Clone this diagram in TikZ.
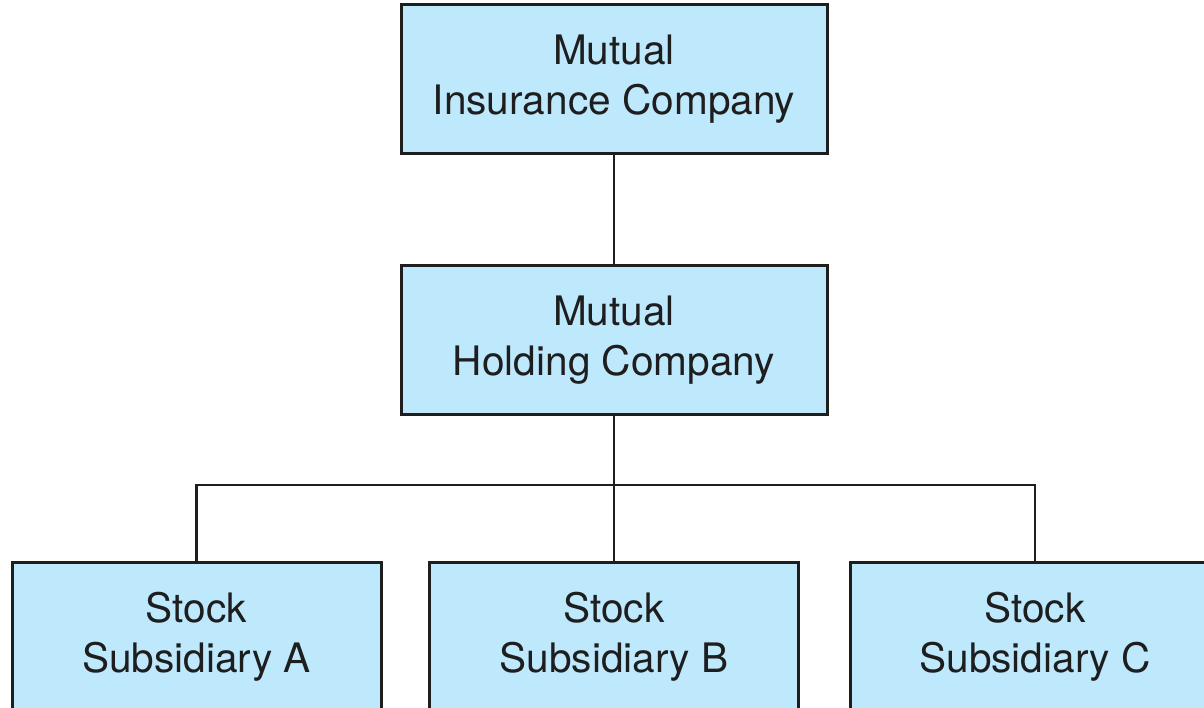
\documentclass[tikz,border=0pt]{standalone}
\usepackage{fontspec}
\setmainfont{TeX Gyre Heros}
\definecolor{boxblue}{RGB}{190,233,253}
\definecolor{inkgray}{RGB}{30,30,30}
\begin{document}
\begin{tikzpicture}[x=1pt,y=-1pt,
  entity/.style={draw=inkgray, line width=3pt, fill=boxblue, text=inkgray,
    align=center, font=\fontsize{40.6}{50}\selectfont, inner sep=0pt},
  subbox/.style={entity, minimum width=369pt, minimum height=150pt},
  conn/.style={draw=inkgray, line width=2.8pt}]
\useasboundingbox (0,0) rectangle (1204,708);
\clip (0,0) rectangle (1204,708);
\node[entity, minimum width=426pt, minimum height=149pt] (mic) at (614,79.5) {Mutual\\Insurance Company};
\node[entity, minimum width=426pt, minimum height=148pt] (mhc) at (614,340) {Mutual\\Holding Company};
\node[subbox] (sa) at (196.5,637) {Stock\\Subsidiary A};
\node[subbox] (sb) at (614,637) {Stock\\Subsidiary B};
\node[subbox] (sc) at (1035,637) {Stock\\Subsidiary C};
\coordinate (bus) at (614,485);
\draw[conn] (mic.south) -- (mhc.north);
\draw[conn] (mhc.south) -- (bus);
\draw[conn] (sa.north) |- (bus) -| (sc.north);
\draw[conn] (bus) -- (sb.north);
\end{tikzpicture}
\end{document}
